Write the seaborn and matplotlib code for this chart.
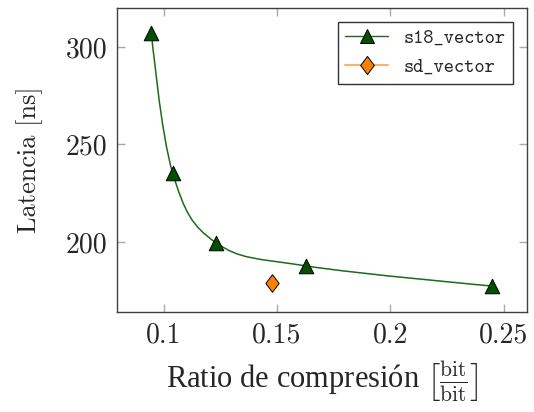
import numpy as np
import matplotlib
matplotlib.use("Agg")
import matplotlib.pyplot as plt
import seaborn as sns
from matplotlib.path import Path
from matplotlib.patches import PathPatch
from matplotlib.lines import Line2D
from matplotlib.ticker import FixedLocator, FixedFormatter

# ---- data ----
s18_ratio = [0.0946, 0.104, 0.1231, 0.163, 0.245]
s18_lat = [307.2, 235.2, 199.6, 187.7, 177.4]
sd_ratio = [0.1478]
sd_lat = [179.1]
xticks = [0.1, 0.15, 0.2, 0.25]
xticklabels = ["0.1", "0.15", "0.2", "0.25"]
yticks = [200, 250, 300]
yticklabels = ["200", "250", "300"]
series_names = ["s18_vector", "sd_vector"]

sns.set_style("ticks")
plt.rcParams["mathtext.fontset"] = "cm"
plt.rcParams["font.family"] = ["cmr10", "DejaVu Serif"]

W, H = 534, 412
fig = plt.figure(figsize=(W / 100, H / 100), dpi=100)
ax = fig.add_axes([117 / W, 1 - 312 / H, (527 - 117) / W, (312 - 8) / H])
ax.set_xlim(0.0794, 0.2603)
ax.set_ylim(164.1, 320.0)

green_line = "#1a6b1a"
green_face = "#005000"
orange_face = "#ff8000"
orange_line = "#ffb070"

# smooth curve (TikZ-like) computed in display space
fig.canvas.draw()
pts = ax.transData.transform(np.column_stack([s18_ratio, s18_lat]))
t = 0.55 / 3.0
n = len(pts)
verts = [pts[0]]
codes = [Path.MOVETO]
for i in range(n - 1):
    p0 = pts[i]
    p1 = pts[i + 1]
    if i == 0:
        c1 = p0
    else:
        c1 = p0 + t * (pts[i + 1] - pts[i - 1])
    if i + 1 == n - 1:
        c2 = p1
    else:
        c2 = p1 - t * (pts[i + 2] - pts[i])
    verts += [c1, c2, p1]
    codes += [Path.CURVE4] * 3
verts = ax.transData.inverted().transform(np.array(verts))
ax.add_patch(PathPatch(Path(verts, codes), fill=False, edgecolor=green_line, lw=1.1, zorder=2))

sns.scatterplot(x=s18_ratio, y=s18_lat, marker="^", s=110, color=green_face,
                edgecolor="black", linewidth=0.7, zorder=3, ax=ax, legend=False)
diamond = [(-0.38, 0), (0, 0.5), (0.38, 0), (0, -0.5), (-0.38, 0)]
sns.scatterplot(x=sd_ratio, y=sd_lat, marker=diamond, s=160, color=orange_face,
                edgecolor="black", linewidth=0.7, zorder=3, ax=ax, legend=False)

ax.xaxis.set_major_locator(FixedLocator(xticks))
ax.xaxis.set_major_formatter(FixedFormatter(xticklabels))
ax.yaxis.set_major_locator(FixedLocator(yticks))
ax.yaxis.set_major_formatter(FixedFormatter(yticklabels))
ax.tick_params(direction="in", length=6, width=1, color="#aaaaaa",
               top=True, right=True, labelsize=20, pad=7)
for sp in ax.spines.values():
    sp.set_visible(True)
    sp.set_color("#404040")
    sp.set_linewidth(1.0)

ax.set_ylabel("Latencia [ns]", fontsize=19, labelpad=16)
ax.set_xlabel(r"Ratio de compresión $\left[\frac{\mathrm{bit}}{\mathrm{bit}}\right]$",
              fontsize=22, labelpad=8, family=["Liberation Serif"])

handles = [
    Line2D([], [], color=green_line, lw=1.0, marker="^", markersize=10.5,
           markerfacecolor=green_face, markeredgecolor="black", markeredgewidth=0.7),
    Line2D([], [], color=orange_line, lw=1.5, marker=diamond, markersize=13,
           markerfacecolor=orange_face, markeredgecolor="black", markeredgewidth=0.7),
]
leg = ax.legend(handles, series_names, loc="upper right", frameon=True, fancybox=False,
                edgecolor="black", prop={"family": "cmtt10", "size": 14},
                handlelength=2.2, borderaxespad=0.7, labelspacing=0.5)
leg.get_frame().set_linewidth(1.0)

fig.savefig("out.png", dpi=100)
